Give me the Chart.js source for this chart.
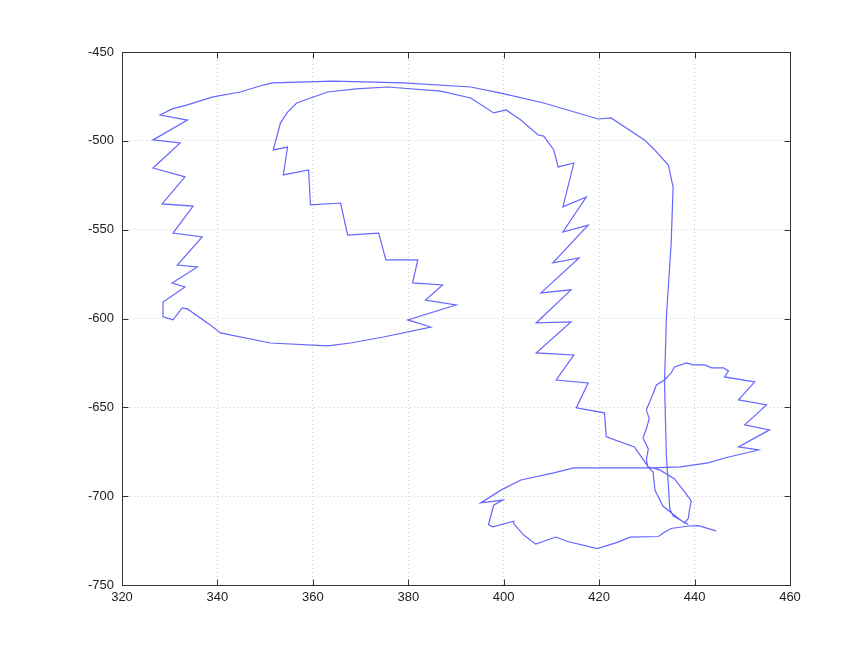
<!DOCTYPE html>
<html>
<head>
<meta charset="utf-8">
<script src="https://cdn.jsdelivr.net/npm/chart.js@4.4.0/dist/chart.umd.min.js"></script>
<style>
html,body{margin:0;padding:0;background:#fff;}
#wrap{width:865px;height:647px;position:relative;}
</style>
</head>
<body>
<div id="wrap"><canvas id="c" width="865" height="647"></canvas></div>
<script>
const xTicks = [320, 340, 360, 380, 400, 420, 440, 460];
const yTicks = [-450, -500, -550, -600, -650, -700, -750];

const pathX = [
438.7,437.0,435.5,434.8,434.5,434.1,433.7,434.1,435.1,435.5,434.5,431.6,429.5,422.5,419.8,408.4,399.4,393.1,379.0,364.3,351.5,349.6,
344.8,339.1,333.7,330.5,328.0,333.7,326.5,332.2,326.5,333.2,328.4,334.9,330.7,336.8,331.6,335.8,330.5,333.2,328.6,328.6,330.7,332.6,
333.7,338.5,340.6,351.1,363.1,367.9,374.8,384.7,379.9,390.0,383.6,387.2,380.9,382.0,375.3,373.8,367.3,365.8,359.5,359.1,
353.8,354.7,351.7,353.2,354.7,356.6,360.1,363.1,369.0,375.7,386.8,393.1,397.9,400.5,403.6,407.2,408.4,410.5,411.4,414.7,412.4,417.3,412.4,
417.7,410.3,415.8,407.8,414.1,406.8,414.1,406.8,414.7,411.0,417.7,415.2,421.1,421.5,427.4,430.3,432.7,435.8,437.9,439.3,438.9,438.7,437.9,
435.5,433.4,431.7,431.3,430.2,429.9,430.3,429.2,429.9,430.5,429.9,431.3,432.0,433.7,435.1,435.8,438.3,439.7,442.1,443.6,446.1,447.1,446.3,452.6,449.2,455.1,450.5,
455.7,449.2,453.4,446.3,442.8,437.1,430.9,426.1,414.7,410.5,403.6,399.4,395.2,399.8,397.9,396.8,397.7,402.1,402.1,404.2,406.7,410.9,413.4,419.6,423.8,426.5,432.4,433.6,435.1,438.7,440.8,
444.5
];
const pathY = [
-716.0,-713.4,-711.1,-707.1,-693.7,-677.9,-636.3,-599.0,-557.5,-526.0,-513.6,-505.0,-499.5,-487.1,-487.7,-478.7,-473.1,-469.7,-467.4,-466.4,-467.4,-468.6,
-472.5,-475.3,-479.8,-482.0,-485.5,-488.3,-499.5,-501.2,-515.3,-520.3,-535.5,-536.7,-551.9,-554.1,-569.9,-571.0,-580.0,-582.2,-590.7,-599.1,-600.8,-594.0,
-594.6,-603.6,-608.1,-613.8,-615.4,-613.8,-610.4,-604.8,-600.8,-592.4,-589.6,-581.1,-580.0,-567.0,-567.0,-551.9,-553.0,-535.0,-536.1,-516.4,
-519.2,-503.5,-505.1,-490.0,-483.8,-478.7,-475.3,-472.5,-470.8,-469.7,-472.0,-475.9,-484.3,-482.6,-488.3,-496.7,-497.3,-505.1,-514.7,-512.5,-537.2,-531.6,-551.3,
-547.4,-568.7,-565.9,-585.6,-583.9,-602.5,-601.9,-619.4,-620.5,-634.6,-636.3,-650.3,-653.1,-666.6,-672.3,-683.5,-685.2,-690.3,-697.6,-702.7,-708.4,-712.4,-715.1,
-710.2,-705.7,-696.7,-686.3,-683.5,-679.6,-673.4,-667.2,-662.1,-656.4,-651.4,-642.4,-637.4,-634.6,-630.6,-627.3,-625.0,-626.1,-626.1,-627.8,-627.8,-629.5,-632.9,-635.7,-645.8,-648.6,-659.9,
-662.7,-672.3,-674.0,-678.5,-681.3,-683.5,-684.1,-684.1,-684.1,-686.9,-690.9,-696.6,-703.8,-702.2,-705.1,-716.1,-717.3,-714.1,-715.6,-721.9,-727.0,-723.0,-725.5,-729.5,-726.0,-723.1,-722.7,-720.4,-718.2,-716.8,-716.6,
-719.5
];

const points = pathX.map((x, i) => ({x: x, y: pathY[i]}));

const framePlugin = {
  id: 'frame',
  afterDraw(chart) {
    const {ctx, chartArea: a, scales} = chart;
    ctx.save();
    ctx.strokeStyle = '#333';
    ctx.lineWidth = 1;
    ctx.setLineDash([]);
    const L = Math.round(a.left) + 0.5, R = Math.round(a.right) + 0.5;
    const T = Math.round(a.top) + 0.5, B = Math.round(a.bottom) + 0.5;
    ctx.strokeRect(L, T, R - L, B - T);
    ctx.beginPath();
    const tl = 6;
    xTicks.forEach(v => {
      const px = Math.round(scales.x.getPixelForValue(v)) + 0.5;
      ctx.moveTo(px, B); ctx.lineTo(px, B - tl);
      ctx.moveTo(px, T); ctx.lineTo(px, T + tl);
    });
    yTicks.forEach(v => {
      const py = Math.round(scales.y.getPixelForValue(v)) + 0.5;
      ctx.moveTo(L, py); ctx.lineTo(L + tl, py);
      ctx.moveTo(R, py); ctx.lineTo(R - tl, py);
    });
    ctx.stroke();
    ctx.restore();
  }
};

new Chart(document.getElementById('c'), {
  type: 'scatter',
  data: {
    datasets: [{
      data: points,
      showLine: true,
      borderColor: 'rgba(50,50,255,0.75)',
      borderWidth: 1.2,
      pointRadius: 0,
      tension: 0,
      fill: false
    }]
  },
  options: {
    responsive: false,
    animation: false,
    layout: {padding: {left: 0, top: 52, right: 75, bottom: 0}},
    plugins: {legend: {display: false}, tooltip: {enabled: false}},
    scales: {
      x: {
        type: 'linear',
        min: 320, max: 460,
        afterBuildTicks: s => { s.ticks = xTicks.map(v => ({value: v})); },
        afterFit: s => { s.height = 62; },
        ticks: {
          padding: 5,
          color: '#222',
          font: {family: 'Liberation Sans, Arial, sans-serif', size: 13},
          callback: v => String(v),
          maxRotation: 0, autoSkip: false
        },
        grid: {color: '#cfcfcf', lineWidth: 1, drawTicks: false},
        border: {display: false, dash: [1, 3]}
      },
      y: {
        type: 'linear',
        min: -750, max: -450,
        afterBuildTicks: s => { s.ticks = yTicks.map(v => ({value: v})); },
        afterFit: s => { s.width = 122; },
        ticks: {
          padding: 8,
          color: '#222',
          font: {family: 'Liberation Sans, Arial, sans-serif', size: 13},
          callback: v => String(v),
          autoSkip: false
        },
        grid: {color: '#cfcfcf', lineWidth: 1, drawTicks: false},
        border: {display: false, dash: [1, 3]}
      }
    }
  },
  plugins: [framePlugin]
});
</script>
</body>
</html>
